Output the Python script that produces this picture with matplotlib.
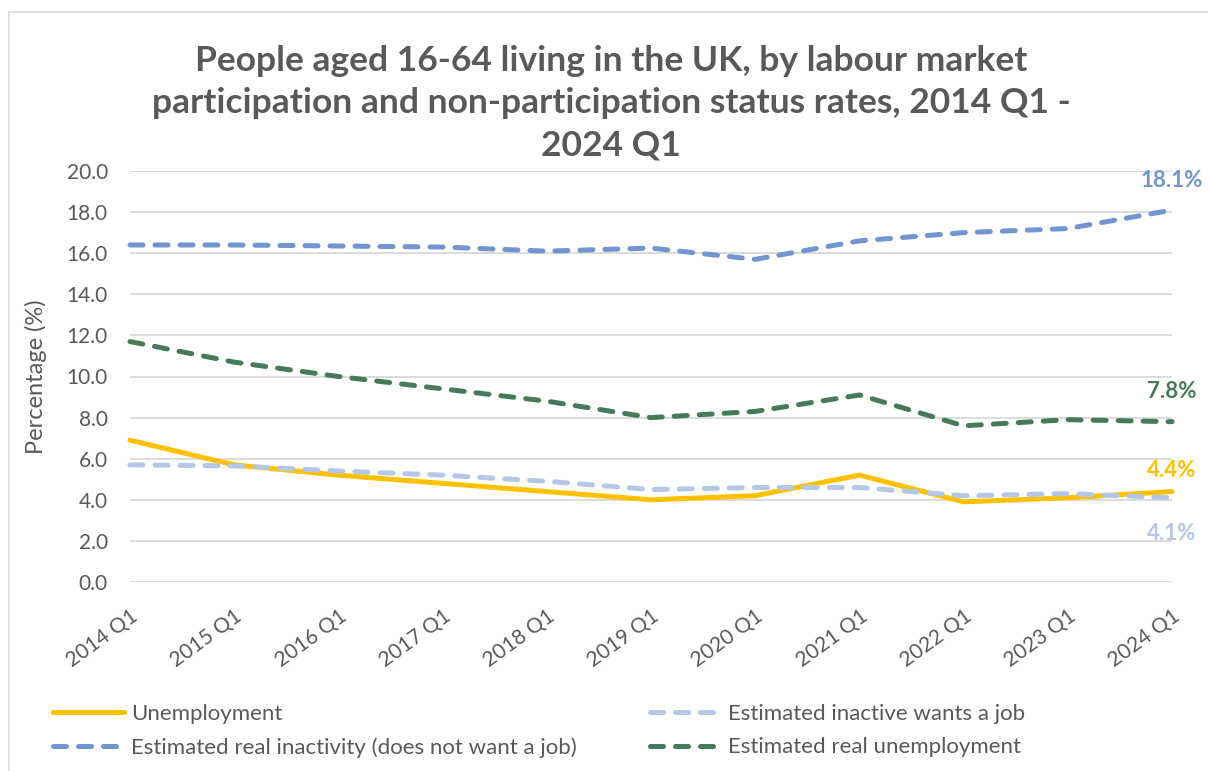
import matplotlib
matplotlib.use("Agg")
import matplotlib.pyplot as plt
from matplotlib.lines import Line2D

plt.rcParams['font.family'] = ['Lato', 'DejaVu Sans']

quarters = ['2014 Q1', '2015 Q1', '2016 Q1', '2017 Q1', '2018 Q1', '2019 Q1',
            '2020 Q1', '2021 Q1', '2022 Q1', '2023 Q1', '2024 Q1']

unemployment = [6.9, 5.7, 5.2, 4.8, 4.4, 4.0, 4.2, 5.2, 3.9, 4.1, 4.4]
inactive_wants_job = [5.7, 5.65, 5.4, 5.2, 4.9, 4.5, 4.6, 4.6, 4.2, 4.3, 4.1]
real_inactivity = [16.4, 16.4, 16.35, 16.3, 16.1, 16.25, 15.7, 16.6, 17.0, 17.2, 18.1]
real_unemployment = [11.7, 10.7, 10.0, 9.4, 8.8, 8.0, 8.3, 9.1, 7.6, 7.9, 7.8]

grey = '#595959'
c_unemp = '#FFC000'
c_wants = '#B4C7E7'
c_inact = '#7294CF'
c_real = '#467A5B'

fig = plt.figure(figsize=(12.08, 7.71), dpi=100)
ax = fig.add_axes([130 / 1208, 1 - 582 / 771, 1042 / 1208, 411 / 771])

x = list(range(len(quarters)))
lw = 3.6
dash = (0, (2.6, 2.4))

ax.plot(x, unemployment, color=c_unemp, lw=lw, solid_capstyle='round',
        label='Unemployment', clip_on=False, zorder=3)
ax.plot(x, inactive_wants_job, color=c_wants, lw=lw, ls=dash, dash_capstyle='round',
        label='Estimated inactive wants a job', clip_on=False, zorder=3)
ax.plot(x, real_inactivity, color=c_inact, lw=lw, ls=dash, dash_capstyle='round',
        label='Estimated real inactivity (does not want a job)', clip_on=False, zorder=3)
ax.plot(x, real_unemployment, color=c_real, lw=lw, ls=dash, dash_capstyle='round',
        label='Estimated real unemployment', clip_on=False, zorder=3)

# values at the latest quarter
last = len(quarters) - 1
for series, col, dy in [(real_inactivity, c_inact, 21), (real_unemployment, c_real, 22),
                        (unemployment, c_unemp, 15), (inactive_wants_job, c_wants, -26)]:
    ax.annotate(f'{series[last]:.1f}%', xy=(last, series[last]), xytext=(0, dy),
                textcoords='offset points', ha='center', va='center',
                color=col, fontsize=16, fontweight='bold', annotation_clip=False)

ax.set_xlim(0, last)
ax.set_ylim(0, 20)
ax.set_yticks([i * 2 for i in range(11)])
ax.set_yticklabels([f'{i * 2:.1f}' for i in range(11)])
ax.set_xticks(x)
ax.set_xticklabels(quarters, rotation=36, ha='right', rotation_mode='anchor')
ax.tick_params(length=0, labelsize=15, labelcolor=grey)
ax.tick_params(axis='y', pad=16)
ax.tick_params(axis='x', pad=17)
ax.grid(axis='y', color='#D9D9D9', lw=1.3)
ax.set_axisbelow(True)
for s in ax.spines.values():
    s.set_visible(False)

ax.set_ylabel('Percentage (%)', fontsize=17, color=grey, labelpad=14)

fig.text(0.506, 1 - 103 / 771, 'People aged 16-64 living in the UK, by labour market\n'
         'participation and non-participation status rates, 2014 Q1 -\n2024 Q1',
         ha='center', va='center', fontsize=25.5, fontweight='bold', color=grey,
         linespacing=1.4)

handles, labels = ax.get_legend_handles_labels()
order = [0, 2, 1, 3]
fig.legend([handles[i] for i in order], [labels[i] for i in order], ncol=2,
           loc='upper left', bbox_to_anchor=(33 / 1208, 1 - 684 / 771), frameon=False,
           fontsize=16, labelcolor=grey, handlelength=3.2, handletextpad=0.3,
           columnspacing=3.3, labelspacing=0.6)

# chart area frame (top and left edges)
fig.add_artist(Line2D([9 / 1208, 1], [1 - 12 / 771, 1 - 12 / 771], color='#D9D9D9', lw=1.2))
fig.add_artist(Line2D([9 / 1208, 9 / 1208], [0, 1 - 12 / 771], color='#D9D9D9', lw=1.2))

fig.savefig('out.png', dpi=100)
